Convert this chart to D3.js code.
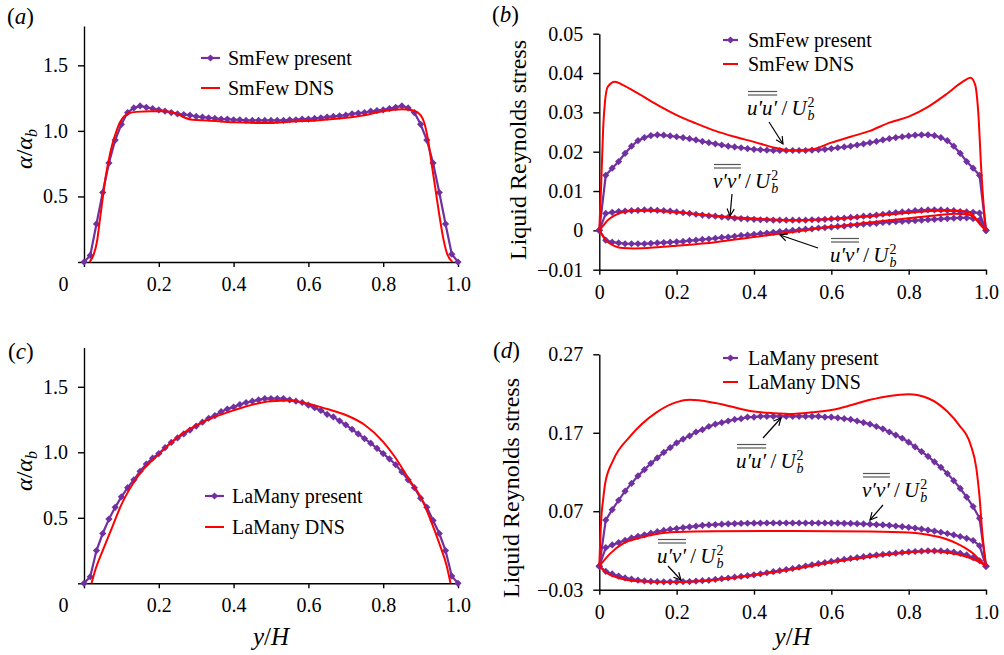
<!DOCTYPE html>
<html>
<head>
<meta charset="utf-8">
<script src="https://cdn.jsdelivr.net/npm/d3@7"></script>
<style>
body{margin:0;background:#fff;}
svg{font-family:"Liberation Serif","Times New Roman",serif;}
</style>
</head>
<body>
<div id="chart"></div>
<script>
var svgWidth = 1004, svgHeight = 655;
var purple = "#7030A0", red = "#FF0000";

// model curves are sampled on 61 nodes across the channel
var yGrid = d3.range(61).map(i => i / 60);

var xTicks = [0, 0.2, 0.4, 0.6, 0.8, 1.0];
var alphaTicks = [0, 0.5, 1.0, 1.5];
var smStressTicks = [-0.01, 0, 0.01, 0.02, 0.03, 0.04, 0.05];
var laStressTicks = [-0.03, 0.07, 0.17, 0.27];

// (a) SmFew void fraction
var smAlphaPresent = [0, 0.05, 0.29, 0.53, 0.755, 0.93, 1.05, 1.14, 1.175, 1.19, 1.18, 1.17, 1.16, 1.15, 1.14, 1.13,
  1.125, 1.12, 1.11, 1.105, 1.10, 1.095, 1.09, 1.09, 1.085, 1.085, 1.08, 1.08, 1.08, 1.08, 1.08, 1.08, 1.08, 1.085,
  1.085, 1.09, 1.09, 1.095, 1.10, 1.105, 1.11, 1.115, 1.12, 1.13, 1.135, 1.14, 1.15, 1.155, 1.16, 1.17, 1.18, 1.19,
  1.175, 1.14, 1.05, 0.93, 0.755, 0.53, 0.29, 0.06, 0];
var smAlphaDNS = [[0.015,0],[0.025,0.05],[0.035,0.16],[0.041,0.29],[0.047,0.42],[0.052,0.53],[0.058,0.65],[0.065,0.76],
  [0.075,0.89],[0.087,1.0],[0.097,1.07],[0.107,1.11],[0.12,1.135],[0.14,1.145],[0.18,1.15],[0.22,1.15],[0.25,1.13],
  [0.27,1.1],[0.29,1.085],[0.33,1.08],[0.4,1.065],[0.5,1.06],[0.55,1.07],[0.62,1.08],[0.7,1.1],[0.75,1.12],[0.8,1.15],
  [0.85,1.165],[0.88,1.155],[0.9,1.12],[0.91,1.06],[0.92,0.93],[0.93,0.74],[0.94,0.55],[0.95,0.36],[0.96,0.19],
  [0.97,0.07],[0.985,0]];

// (c) LaMany void fraction
var laAlphaPresent = [0, 0.05, 0.25, 0.38, 0.49, 0.58, 0.66, 0.73, 0.79, 0.855, 0.91, 0.955, 0.99, 1.035, 1.075, 1.11,
  1.14, 1.17, 1.2, 1.23, 1.26, 1.28, 1.31, 1.33, 1.345, 1.365, 1.38, 1.39, 1.40, 1.41, 1.41, 1.41, 1.41, 1.40, 1.39,
  1.38, 1.36, 1.34, 1.32, 1.29, 1.27, 1.24, 1.21, 1.175, 1.14, 1.105, 1.07, 1.03, 0.99, 0.95, 0.905, 0.85, 0.79, 0.73,
  0.65, 0.58, 0.48, 0.38, 0.25, 0.055, 0];
var laAlphaDNS = [[0.02,0],[0.03,0.1],[0.05,0.25],[0.07,0.39],[0.1,0.6],[0.15,0.84],[0.2,0.985],[0.25,1.115],
  [0.3,1.205],[0.35,1.27],[0.4,1.32],[0.5,1.39],[0.55,1.395],[0.6,1.37],[0.65,1.33],[0.7,1.285],[0.75,1.21],
  [0.8,1.08],[0.83,0.97],[0.87,0.79],[0.9,0.66],[0.93,0.46],[0.95,0.305],[0.97,0.13],[0.98,0]];

// (b) SmFew Reynolds stresses
var smUUPresent = [0, 0.014, 0.0158, 0.0175, 0.0196, 0.0214, 0.0228, 0.0236, 0.0241, 0.0243, 0.0242, 0.024, 0.0238,
  0.0236, 0.0233, 0.023, 0.0226, 0.0223, 0.022, 0.0217, 0.0214, 0.0212, 0.021, 0.0208, 0.0206, 0.0205, 0.0204, 0.0203,
  0.0203, 0.0203, 0.0203, 0.0203, 0.0203, 0.0204, 0.0205, 0.0206, 0.0208, 0.021, 0.0212, 0.0214, 0.0217, 0.022, 0.0223,
  0.0226, 0.023, 0.0233, 0.0236, 0.0238, 0.024, 0.0242, 0.0243, 0.0243, 0.0241, 0.0236, 0.0228, 0.0214, 0.0196, 0.0175,
  0.0158, 0.014, 0];
var smUUDNS = [[0,0],[0.005,0.012],[0.01,0.026],[0.015,0.033],[0.022,0.0365],[0.04,0.0378],[0.06,0.037],[0.1,0.0348],
  [0.15,0.0319],[0.2,0.0293],[0.25,0.0272],[0.3,0.0253],[0.35,0.0238],[0.4,0.0225],[0.45,0.0211],[0.5,0.0203],
  [0.55,0.0206],[0.6,0.0223],[0.65,0.0238],[0.7,0.0253],[0.75,0.0274],[0.8,0.0289],[0.85,0.0314],[0.9,0.0348],
  [0.94,0.0378],[0.96,0.0388],[0.972,0.037],[0.98,0.03],[0.988,0.015],[0.995,0.005],[1,0]];
var smVVPresent = [0, 0.0043, 0.0046, 0.0048, 0.0049, 0.005, 0.0051, 0.0052, 0.0052, 0.0051, 0.005, 0.0049, 0.0047,
  0.0045, 0.0043, 0.0041, 0.0039, 0.0037, 0.0036, 0.0034, 0.0033, 0.0031, 0.003, 0.0029, 0.0028, 0.0027, 0.0027, 0.0026,
  0.0026, 0.0026, 0.0026, 0.0026, 0.0026, 0.0027, 0.0027, 0.0028, 0.0029, 0.003, 0.0031, 0.0033, 0.0034, 0.0036, 0.0037,
  0.0039, 0.0041, 0.0043, 0.0045, 0.0047, 0.0048, 0.005, 0.0051, 0.0052, 0.0052, 0.0052, 0.0051, 0.005, 0.0048, 0.0047,
  0.0046, 0.0044, 0];
var smVVDNS = [[0,0],[0.01,0.0012],[0.02,0.0024],[0.04,0.0038],[0.06,0.0046],[0.08,0.0049],[0.12,0.005],[0.2,0.0046],
  [0.3,0.0037],[0.4,0.003],[0.5,0.0026],[0.6,0.0029],[0.7,0.0036],[0.8,0.0045],[0.88,0.005],[0.93,0.005],
  [0.958,0.0045],[0.97,0.0035],[0.98,0.0022],[0.99,0.001],[1,0]];
var smUVPresent = [0, -0.0025, -0.003, -0.0032, -0.0034, -0.0034, -0.0034, -0.0034, -0.0033, -0.0032, -0.0031, -0.003,
  -0.0029, -0.0028, -0.0026, -0.0025, -0.0023, -0.0022, -0.002, -0.0018, -0.0017, -0.0015, -0.0013, -0.0012, -0.001,
  -0.0008, -0.0007, -0.0005, -0.0003, -0.0002, 0, 0.0001, 0.0003, 0.0004, 0.0006, 0.0007, 0.0008, 0.001, 0.0011, 0.0013,
  0.0014, 0.0016, 0.0017, 0.0018, 0.002, 0.0021, 0.0022, 0.0023, 0.0024, 0.0025, 0.0026, 0.0027, 0.0028, 0.0029, 0.003,
  0.0031, 0.0032, 0.0032, 0.003, 0.0026, 0];
var smUVDNS = [[0,0],[0.01,-0.0015],[0.02,-0.0028],[0.04,-0.004],[0.06,-0.0045],[0.09,-0.0046],[0.15,-0.0043],
  [0.2,-0.0039],[0.3,-0.003],[0.4,-0.0017],[0.5,-0.0004],[0.6,0.0009],[0.7,0.002],[0.8,0.0031],[0.88,0.0039],
  [0.92,0.0042],[0.95,0.0041],[0.97,0.0032],[0.985,0.0015],[1,0]];

// (d) LaMany Reynolds stresses
var laUUPresent = [0, 0.0587, 0.072, 0.084, 0.0956, 0.1055, 0.115, 0.123, 0.131, 0.138, 0.145, 0.151, 0.157, 0.162,
  0.166, 0.171, 0.174, 0.178, 0.181, 0.183, 0.185, 0.187, 0.188, 0.19, 0.19, 0.191, 0.191, 0.191, 0.191, 0.191, 0.191,
  0.191, 0.191, 0.191, 0.191, 0.19, 0.19, 0.189, 0.188, 0.187, 0.185, 0.183, 0.181, 0.178, 0.175, 0.171, 0.167, 0.163,
  0.158, 0.152, 0.146, 0.14, 0.133, 0.126, 0.118, 0.109, 0.099, 0.088, 0.076, 0.061, 0];
var laUUDNS = [[0,0],[0.005,0.06],[0.01,0.085],[0.015,0.105],[0.036,0.135],[0.079,0.165],[0.148,0.196],[0.2,0.209],
  [0.234,0.212],[0.3,0.208],[0.4,0.197],[0.45,0.195],[0.5,0.194],[0.55,0.196],[0.6,0.199],[0.65,0.205],[0.7,0.212],
  [0.75,0.217],[0.8,0.219],[0.85,0.214],[0.9,0.197],[0.93,0.18],[0.96,0.155],[0.975,0.125],[0.983,0.09],
  [0.99,0.045],[1,0]];
var laVVPresent = [0, 0.0235, 0.027, 0.03, 0.033, 0.036, 0.038, 0.04, 0.042, 0.044, 0.0455, 0.047, 0.048, 0.049, 0.05,
  0.051, 0.052, 0.0525, 0.053, 0.0535, 0.054, 0.0543, 0.0545, 0.0547, 0.0548, 0.0549, 0.055, 0.055, 0.055, 0.055, 0.055,
  0.055, 0.055, 0.055, 0.055, 0.055, 0.0549, 0.0548, 0.0546, 0.0544, 0.0541, 0.0538, 0.0535, 0.053, 0.0525, 0.052,
  0.0512, 0.0504, 0.0495, 0.0485, 0.0473, 0.046, 0.0447, 0.0432, 0.0416, 0.0398, 0.0378, 0.0355, 0.0327, 0.026, 0];
var laVVDNS = [[0,0],[0.028,0.016],[0.062,0.029],[0.105,0.036],[0.148,0.041],[0.2,0.0435],[0.3,0.0446],[0.5,0.0448],
  [0.7,0.0442],[0.8,0.043],[0.85,0.04],[0.9,0.034],[0.924,0.029],[0.95,0.022],[0.967,0.016],[0.985,0.007],[1,0]];
var laUVPresent = [0, -0.0066, -0.0099, -0.0127, -0.015, -0.0166, -0.0179, -0.0188, -0.0194, -0.0198, -0.02, -0.02,
  -0.02, -0.0198, -0.0196, -0.019, -0.0185, -0.018, -0.0169, -0.016, -0.0151, -0.0141, -0.0131, -0.0121, -0.011, -0.0097,
  -0.0084, -0.007, -0.0057, -0.0043, -0.003, -0.0014, 0.0002, 0.0017, 0.0032, 0.0046, 0.006, 0.0073, 0.0086, 0.0098,
  0.011, 0.0121, 0.0132, 0.0141, 0.015, 0.0158, 0.0166, 0.0174, 0.0181, 0.0187, 0.0192, 0.0195, 0.0196, 0.0194, 0.0188,
  0.0178, 0.0164, 0.0143, 0.011, 0.0069, 0];
var laUVDNS = [[0,0],[0.02,-0.009],[0.05,-0.015],[0.1,-0.0192],[0.15,-0.0202],[0.2,-0.0202],[0.3,-0.0175],
  [0.4,-0.0115],[0.5,-0.004],[0.6,0.005],[0.7,0.012],[0.8,0.0175],[0.85,0.019],[0.9,0.0175],[0.95,0.012],
  [0.98,0.006],[1,0]];

var svg = d3.select("#chart").append("svg")
  .attr("width", svgWidth).attr("height", svgHeight);

var defs = svg.append("defs");
defs.append("marker").attr("id", "arrow")
  .attr("viewBox", "0 0 10 10").attr("refX", 9).attr("refY", 5)
  .attr("markerWidth", 9).attr("markerHeight", 9).attr("orient", "auto")
  .attr("markerUnits", "userSpaceOnUse")
  .append("path").attr("d", "M1,1 L9,5 L1,9").attr("fill", "none")
  .attr("stroke", "#000").attr("stroke-width", 1.3);

var diamond = d3.symbol(d3.symbolSquare, 26);

function drawPanel(p) {
  var x = d3.scaleLinear().domain([0, 1]).range([p.x0, p.x1]);
  var y = d3.scaleLinear().domain(p.yDomain).range([p.y0, p.y1]);
  var g = svg.append("g");

  var xAxis = g.append("g").attr("transform", `translate(0,${p.y0})`)
    .call(d3.axisBottom(x).tickValues(xTicks).tickSize(5).tickSizeOuter(0).tickPadding(10)
      .tickFormat(d => d === 0 ? "0" : d3.format(".1f")(d)));
  var yAxis = g.append("g").attr("transform", `translate(${p.x0},0)`)
    .call(d3.axisLeft(y).tickValues(p.yTicks).tickSize(6).tickSizeOuter(0).tickPadding(10)
      .tickFormat(p.yFormat));
  [xAxis, yAxis].forEach(a => {
    a.attr("font-family", null).attr("font-size", null);
    a.selectAll("path,line").attr("stroke", "#000").attr("stroke-width", 1.4);
    a.selectAll("text").attr("font-size", 20).attr("fill", "#000");
  });
  if (p.shiftZero) {
    xAxis.selectAll(".tick text").filter(d => d === 0).attr("x", -21);
  }

  var line = d3.line().x(d => x(d[0])).y(d => y(d[1]));
  p.series.forEach(s => {
    var pts = yGrid.map((v, i) => [v, s.present[i]]);
    g.append("path").attr("d", line(pts)).attr("fill", "none")
      .attr("stroke", purple).attr("stroke-width", 2.2);
    g.selectAll(null).data(pts).enter().append("path")
      .attr("d", diamond)
      .attr("transform", d => `translate(${x(d[0])},${y(d[1])}) rotate(45)`)
      .attr("fill", purple);
  });
  var smooth = d3.line().x(d => x(d[0])).y(d => y(d[1])).curve(d3.curveMonotoneX);
  p.series.forEach(s => {
    g.append("path").attr("d", smooth(s.dns)).attr("fill", "none")
      .attr("stroke", red).attr("stroke-width", 2);
  });

  // legend
  var L = p.legend;
  g.append("line").attr("x1", L.x).attr("x2", L.x + L.len).attr("y1", L.y).attr("y2", L.y)
    .attr("stroke", purple).attr("stroke-width", 2.2);
  g.append("path").attr("d", diamond)
    .attr("transform", `translate(${L.x + L.len / 2},${L.y}) rotate(45)`).attr("fill", purple);
  g.append("line").attr("x1", L.x).attr("x2", L.x + L.len).attr("y1", L.y + L.gap).attr("y2", L.y + L.gap)
    .attr("stroke", red).attr("stroke-width", 2);
  g.append("text").attr("x", L.tx).attr("y", L.y + 7).attr("font-size", 20).text(p.name + " present");
  g.append("text").attr("x", L.tx).attr("y", L.y + L.gap + 7).attr("font-size", 20).text(p.name + " DNS");

  // panel tag
  var tag = g.append("text").attr("x", p.tag[0]).attr("y", p.tag[1]).attr("font-size", 23);
  tag.append("tspan").text("(");
  tag.append("tspan").attr("font-style", "italic").text(p.letter);
  tag.append("tspan").text(")");

  // y title
  var yt = g.append("text").attr("transform", `translate(${p.ytitle[0]},${p.ytitle[1]}) rotate(-90)`)
    .attr("text-anchor", "middle").attr("font-size", 24);
  if (p.stress) {
    yt.text("Liquid Reynolds stress");
  } else {
    yt.append("tspan").attr("font-style", "italic").text("α");
    yt.append("tspan").text("/");
    yt.append("tspan").attr("font-style", "italic").text("α");
    yt.append("tspan").attr("font-style", "italic").attr("font-size", 16).attr("dy", 5).text("b");
  }

  // x title
  if (p.xtitle) {
    var xt = g.append("text").attr("x", (p.x0 + p.x1) / 2).attr("y", 645)
      .attr("text-anchor", "middle").attr("font-size", 25);
    xt.append("tspan").attr("font-style", "italic").text("y");
    xt.append("tspan").text("/");
    xt.append("tspan").attr("font-style", "italic").text("H");
  }

  (p.notes || []).forEach(n => {
    mathLabel(g, n.tx, n.ty, n.label);
    g.append("line").attr("x1", n.a[0]).attr("y1", n.a[1]).attr("x2", n.a[2]).attr("y2", n.a[3])
      .attr("stroke", "#000").attr("stroke-width", 1.2).attr("marker-end", "url(#arrow)");
  });
}

function mathLabel(g, x, y, num) {
  var t = g.append("text").attr("x", x).attr("y", y).attr("font-size", 21);
  var n = t.append("tspan").attr("font-style", "italic").text(num);
  t.append("tspan").text("\u2009/\u2009");
  t.append("tspan").attr("font-style", "italic").text("U");
  var wn = n.node().getComputedTextLength();
  var w = t.node().getComputedTextLength();
  g.append("text").attr("x", x + w + 1).attr("y", y - 8).attr("font-size", 14).text("2");
  g.append("text").attr("x", x + w + 1).attr("y", y + 5).attr("font-size", 14).attr("font-style", "italic").text("b");
  [20, 23.5].forEach(dy => g.append("line")
    .attr("x1", x + 1).attr("x2", x + wn).attr("y1", y - dy).attr("y2", y - dy)
    .attr("stroke", "#555").attr("stroke-width", 1.2));
}

var alphaFormat = d => d === 0 ? "" : d3.format(".1f")(d);
var stressFormat = d => d === 0 ? "0" : d3.format(".2f")(d);

drawPanel({
  letter: "a", name: "SmFew", tag: [7, 24], x0: 84, x1: 458, y0: 262, y1: 26, yDomain: [0, 1.8],
  yTicks: alphaTicks, yFormat: alphaFormat, shiftZero: true, ytitle: [32, 149],
  legend: {x: 201, len: 19, y: 58, gap: 30, tx: 228},
  series: [{present: smAlphaPresent, dns: smAlphaDNS}]
});
drawPanel({
  letter: "b", name: "SmFew", tag: [492, 22], x0: 599.3, x1: 986, y0: 269.7, y1: 33.7, yDomain: [-0.01, 0.05],
  yTicks: smStressTicks, yFormat: stressFormat, stress: true, ytitle: [526, 150],
  legend: {x: 723, len: 15, y: 40, gap: 24, tx: 748},
  series: [{present: smUUPresent, dns: smUUDNS}, {present: smVVPresent, dns: smVVDNS}, {present: smUVPresent, dns: smUVDNS}],
  notes: [
    {label: "u′u′", tx: 747, ty: 115, a: [769, 122, 783, 144]},
    {label: "v′v′", tx: 713, ty: 188, a: [732, 194, 730, 216]},
    {label: "u′v′", tx: 830, ty: 262, a: [818, 248, 780, 235]}
  ]
});
drawPanel({
  letter: "c", name: "LaMany", tag: [8, 359], x0: 84, x1: 458, y0: 583.3, y1: 347.5, yDomain: [0, 1.8],
  yTicks: alphaTicks, yFormat: alphaFormat, shiftZero: true, ytitle: [32, 471], xtitle: true,
  legend: {x: 205, len: 19, y: 496, gap: 31, tx: 232},
  series: [{present: laAlphaPresent, dns: laAlphaDNS}]
});
drawPanel({
  letter: "d", name: "LaMany", tag: [493, 358], x0: 599.3, x1: 986, y0: 589.7, y1: 354.3, yDomain: [-0.03, 0.27],
  yTicks: laStressTicks, yFormat: stressFormat, stress: true, ytitle: [519, 488], xtitle: true,
  legend: {x: 723, len: 15, y: 358, gap: 24, tx: 748},
  series: [{present: laUUPresent, dns: laUUDNS}, {present: laVVPresent, dns: laVVDNS}, {present: laUVPresent, dns: laUVDNS}],
  notes: [
    {label: "u′u′", tx: 736, ty: 468, a: [763, 438, 781, 418]},
    {label: "v′v′", tx: 862, ty: 497, a: [883, 505, 870, 520]},
    {label: "u′v′", tx: 657, ty: 563, a: [668, 566, 681, 580]}
  ]
});
</script>
</body>
</html>
